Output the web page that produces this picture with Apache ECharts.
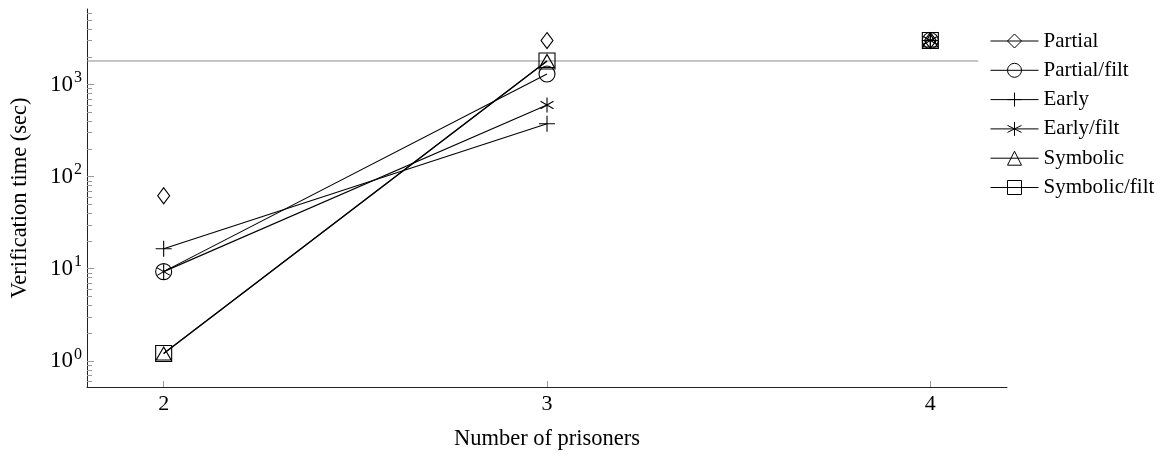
<!DOCTYPE html>
<html>
<head>
<meta charset="utf-8">
<script src="https://cdn.jsdelivr.net/npm/echarts@6/dist/echarts.min.js"></script>
<style>
  html, body { margin: 0; padding: 0; background: #fff; }
  #chart { width: 1163px; height: 457px; }
</style>
</head>
<body>
<div id="chart"></div>
<script>
// Number of prisoners on the x axis
const prisoners = [2, 3, 4];

// Timeout limit (sec) and the x range its guide line spans
const timeoutLimit = 1800;
const timeoutSpan = [1.8, 4.125];

// Verification times (sec); timed-out runs are plotted at 3000 and left unconnected
const partial          = [62, 3000, 3000];
const partialTimedOut  = [false, true, true];
const partialFilt      = [9.3, 1300, 3000];
const partialFiltTimedOut = [false, false, true];
const early            = [16.5, 375, 3000];
const earlyTimedOut    = [false, false, true];
const earlyFilt        = [9.3, 600, 3000];
const earlyFiltTimedOut = [false, false, true];
const symbolic         = [1.2, 1800, 3000];
const symbolicTimedOut = [false, false, true];
const symbolicFilt     = [1.2, 1800, 3000];
const symbolicFiltTimedOut = [false, false, true];

// Axis ticks
const yMajorTicks = [1, 10, 100, 1000];
const yMinorTicks = [0.6, 0.7, 0.8, 0.9, 2, 3, 4, 5, 6, 7, 8, 9,
  20, 30, 40, 50, 60, 70, 80, 90, 200, 300, 400, 500, 600, 700, 800, 900,
  2000, 3000, 4000, 5000, 6000];

const FONT = 'Liberation Serif, Times New Roman, serif';
const PLUS = 'path://M-1,0L1,0M0,-1L0,1';
const STAR = 'path://M0,-1L0,1M-0.866,-0.5L0.866,0.5M-0.866,0.5L0.866,-0.5';

// Break the line around timed-out points so they stand alone
function buildPoints(values, timedOut) {
  const pts = [];
  values.forEach((v, i) => {
    if (i > 0 && (timedOut[i] || timedOut[i - 1])) {
      pts.push([(prisoners[i - 1] + prisoners[i]) / 2, '-']);
    }
    pts.push([prisoners[i], v]);
  });
  return pts;
}

function method(name, values, timedOut, symbol, size) {
  return {
    name: name,
    type: 'line',
    data: buildPoints(values, timedOut),
    connectNulls: false,
    symbol: symbol,
    symbolSize: size,
    symbolKeepAspect: true,
    showAllSymbol: true,
    lineStyle: { color: '#000', width: 1.1 },
    itemStyle: { color: 'transparent', borderColor: '#000', borderWidth: 1.1 },
    emphasis: { disabled: true },
    silent: true,
    z: 3
  };
}

const chart = echarts.init(document.getElementById('chart'), null, { renderer: 'canvas' });

chart.setOption({
  animation: false,
  backgroundColor: '#fff',
  textStyle: { fontFamily: FONT },
  grid: { left: 87, right: 156, top: 9, bottom: 70, containLabel: false },
  legend: {
    orient: 'vertical',
    left: 990,
    top: 30,
    padding: 0,
    itemWidth: 48,
    itemHeight: 17.5,
    itemGap: 7.3,
    data: ['Partial', 'Partial/filt', 'Early', 'Early/filt', 'Symbolic', 'Symbolic/filt'],
    textStyle: { fontFamily: FONT, fontSize: 21, color: '#000', lineHeight: 22 },
    itemStyle: { color: 'transparent', borderColor: '#000', borderWidth: 1 },
    lineStyle: { color: '#000', width: 1 },
    selectedMode: false
  },
  xAxis: {
    type: 'value',
    min: 1.8,
    max: 4.2,
    name: 'Number of prisoners',
    nameLocation: 'middle',
    nameGap: 41,
    nameTextStyle: { fontFamily: FONT, fontSize: 22.5, color: '#000' },
    axisLine: { show: true, onZero: false, lineStyle: { color: '#222', width: 1 } },
    axisTick: { show: true, inside: true, length: 6, customValues: prisoners, lineStyle: { color: '#999' } },
    axisLabel: { customValues: prisoners, margin: 6, fontFamily: FONT, fontSize: 22, color: '#000' },
    splitLine: { show: false }
  },
  yAxis: [
    {
      type: 'log',
      logBase: 10,
      min: 0.52,
      max: 6600,
      name: 'Verification time (sec)',
      nameLocation: 'middle',
      nameGap: 55,
      nameTextStyle: { fontFamily: FONT, fontSize: 22.5, color: '#000' },
      axisLine: { show: true, onZero: false, lineStyle: { color: '#222', width: 1 } },
      axisTick: { show: true, inside: true, length: 7, customValues: yMajorTicks, lineStyle: { color: '#999' } },
      axisLabel: {
        customValues: yMajorTicks,
        margin: 5,
        formatter: v => '{b|10}{s|' + Math.round(Math.log10(v)) + '}',
        rich: {
          b: { fontFamily: FONT, fontSize: 23, lineHeight: 29, color: '#000' },
          s: { fontFamily: FONT, fontSize: 16, lineHeight: 16, verticalAlign: 'top', padding: [0, 0, 0, 1], color: '#000' }
        }
      },
      splitLine: { show: false }
    },
    {
      type: 'log',
      logBase: 10,
      min: 0.52,
      max: 6600,
      position: 'left',
      axisLine: { show: false },
      axisTick: { show: true, inside: true, length: 5, customValues: yMinorTicks, lineStyle: { color: '#999' } },
      axisLabel: { show: false },
      splitLine: { show: false }
    }
  ],
  series: [
    {
      name: 'timeout',
      type: 'line',
      data: timeoutSpan.map(x => [x, timeoutLimit]),
      symbol: 'none',
      lineStyle: { color: '#8c8c8c', width: 1 },
      silent: true,
      z: 1
    },
    method('Partial', partial, partialTimedOut, 'diamond', [12, 16]),
    method('Partial/filt', partialFilt, partialFiltTimedOut, 'circle', 16),
    method('Early', early, earlyTimedOut, PLUS, 16),
    method('Early/filt', earlyFilt, earlyFiltTimedOut, STAR, 15),
    method('Symbolic', symbolic, symbolicTimedOut, 'triangle', [15, 13]),
    method('Symbolic/filt', symbolicFilt, symbolicFiltTimedOut, 'rect', 16)
  ]
});
</script>
</body>
</html>
